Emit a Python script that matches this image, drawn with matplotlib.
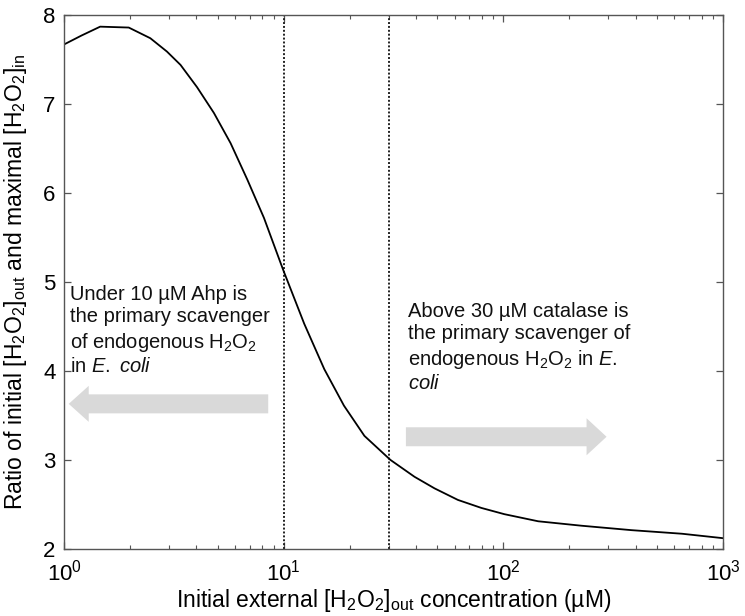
import matplotlib
matplotlib.use("Agg")
import matplotlib.pyplot as plt
from matplotlib.patches import FancyArrow
import numpy as np

plt.rcParams['font.family'] = ['Liberation Sans', 'DejaVu Sans']
plt.rcParams['mathtext.fontset'] = 'custom'
plt.rcParams['mathtext.rm'] = 'Liberation Sans'
plt.rcParams['mathtext.it'] = 'Liberation Sans:italic'
plt.rcParams['mathtext.bf'] = 'Liberation Sans:bold'

# Data
conc = [1, 1.2, 1.46, 1.97, 2.47, 2.94, 3.39, 4.03, 4.81, 5.73, 6.83, 8.13, 9.69,
        10, 12.4, 15.3, 18.8, 23.3, 30.6, 39.4, 48.6, 62.1, 79.4, 101, 144,
        227, 384, 650, 1000]
ratio = [7.67, 7.77, 7.87, 7.86, 7.74, 7.59, 7.44, 7.19, 6.90, 6.56, 6.15, 5.72, 5.21,
         5.12, 4.53, 4.02, 3.61, 3.27, 3.00, 2.81, 2.68, 2.55, 2.46, 2.39, 2.31,
         2.26, 2.21, 2.17, 2.12]
thresholds = [10, 30]

left_text = ("Under 10 \u00b5M Ahp is\nthe primary scavenger\n"
             "of endogenous H$_2$O$_2$\nin $\\mathit{E.}$ $\\mathit{coli}$")
right_text = ("Above 30 \u00b5M catalase is\nthe primary scavenger of\n"
              "endogenous H$_2$O$_2$ in $\\mathit{E.}$\n$\\mathit{coli}$")

fig = plt.figure(figsize=(7.45, 6.16), dpi=100)
ax = fig.add_axes([0.086, 0.109, 0.8845, 0.8665])

ax.set_xscale('log')
ax.set_xlim(1, 1000)
ax.set_ylim(2, 8)
ax.set_yticks([2, 3, 4, 5, 6, 7, 8])

for t in thresholds:
    ax.plot([t, t], [2, 8], color='#222222', linestyle=(0, (1, 1)), linewidth=1.4)

ax.plot(conc, ratio, color='black', linewidth=1.3)

def xfrac(x):
    return np.log10(x) / 3.0
def yfrac(y):
    return (y - 2) / 6.0

arrow_color = '#d9d9d9'
x0, x1 = xfrac(8.5), xfrac(1.05)
ay = yfrac(3.63)
ax.add_patch(FancyArrow(x0, ay, x1 - x0, 0, width=19/534, head_width=36/534,
                        head_length=20/659, length_includes_head=True,
                        transform=ax.transAxes, color=arrow_color, lw=0))
x0, x1 = xfrac(36), xfrac(295)
ay = yfrac(3.26)
ax.add_patch(FancyArrow(x0, ay, x1 - x0, 0, width=19/534, head_width=37/534,
                        head_length=20/659, length_includes_head=True,
                        transform=ax.transAxes, color=arrow_color, lw=0))

ax.text(1.06, 4.97, left_text, fontsize=14.5, va='top', ha='left',
        linespacing=1.25, color='#111111')
ax.text(36.8, 4.78, right_text, fontsize=14.5, va='top', ha='left',
        linespacing=1.25, color='#111111')

ax.tick_params(which='both', direction='in', top=True, right=True,
               labelsize=16, colors='#555555', labelcolor='black')
ax.tick_params(axis='x', which='major', pad=8)
ax.tick_params(axis='y', which='major', pad=6)
ax.tick_params(which='major', length=5, width=0.9)
ax.tick_params(which='minor', length=3, width=0.8)
for s in ax.spines.values():
    s.set_color('#555555')
    s.set_linewidth(1.0)

ax.set_xlabel("Initial external [H$_2$O$_2$]$_{\\mathrm{out}}$ concentration (\u00b5M)",
              fontsize=16.5, labelpad=1)
ax.set_ylabel("Ratio of initial [H$_2$O$_2$]$_{\\mathrm{out}}$ and maximal [H$_2$O$_2$]$_{\\mathrm{in}}$",
              fontsize=16.5, labelpad=10)

fig.savefig('out.png', dpi=100)
